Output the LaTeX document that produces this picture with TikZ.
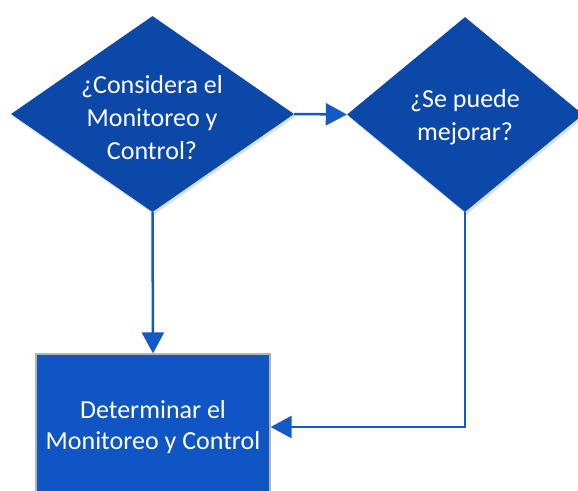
\documentclass[tikz,border=0pt]{standalone}
\usepackage{fontspec}
\setmainfont{Carlito}
\usetikzlibrary{shapes.geometric,arrows.meta,shadows}
\definecolor{diafill}{HTML}{0B48A8}
\definecolor{boxfill}{HTML}{0F55C3}
\definecolor{linecol}{HTML}{1559C6}
\definecolor{boxedge}{HTML}{B4B4B4}
\tikzset{
  dia/.style={diamond, fill=diafill, inner sep=0pt, draw=none,
    drop shadow={opacity=0.18, shadow xshift=1.5pt, shadow yshift=-2.5pt, fill=linecol}},
  procbox/.style={rectangle, fill=boxfill, draw=boxedge, line width=1.2pt, inner sep=0pt},
  txt/.style={text=white, align=center, font=\fontsize{26}{33}\selectfont},
  boxtxt/.style={text=white, align=center, font=\fontsize{26}{31}\selectfont},
  conn/.style={draw=linecol, line width=2.5pt, -{Triangle[length=21pt,width=22pt]}}
}
\begin{document}
\begin{tikzpicture}[x=1pt,y=-1pt]
\useasboundingbox[fill=white] (0,0) rectangle (578,490);
\node[dia, minimum width=283pt, minimum height=196pt] (d1) at (152.5,114) {};
\node[dia, minimum width=236pt, minimum height=195pt] (d2) at (465,114.5) {};
\node[procbox, minimum width=234pt, minimum height=146pt] (r) at (153,427) {};
\node[txt] (t1) at (152,118) {¿Considera el\\Monitoreo y\\Control?};
\node[txt] (t2) at (465,117) {¿Se puede\\mejorar?};
\node[boxtxt] (t3) at (153,427) {Determinar el\\Monitoreo y Control};
\draw[conn] (d1.east) -- (d2.west);
\draw[conn] (d1.south) -- (r.north);
\draw[conn] (d2.south) |- (r.east);
\end{tikzpicture}
\end{document}
